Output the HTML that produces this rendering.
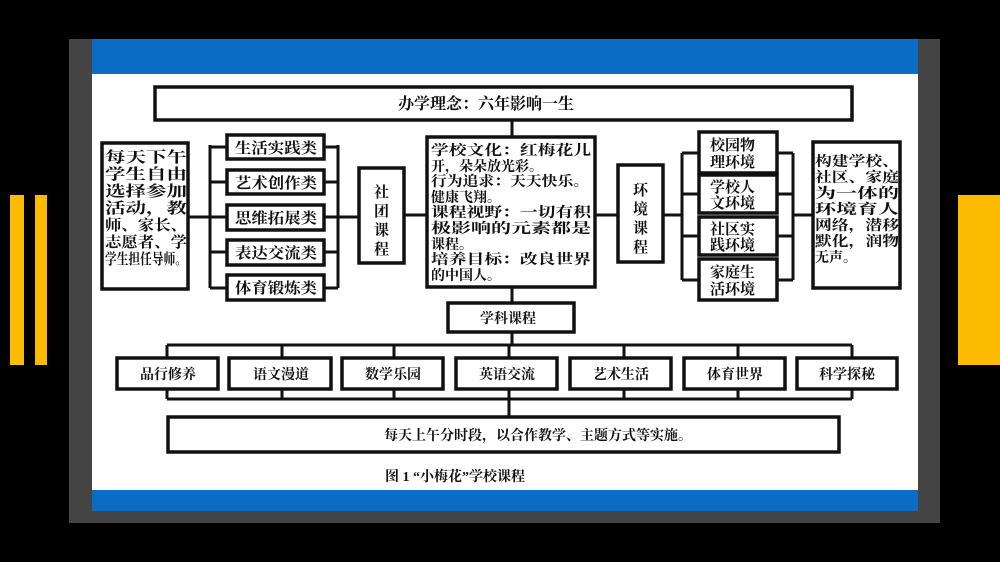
<!DOCTYPE html>
<html><head><meta charset="utf-8"><style>
html,body{margin:0;padding:0;background:#000;}
body{width:1000px;height:562px;overflow:hidden;position:relative;}
svg{position:absolute;left:0;top:0;}
text{font-family:"Liberation Serif","Noto Serif CJK SC","Noto Sans CJK SC",serif;fill:#111;font-weight:bold;}
</style></head><body>
<svg width="1000" height="562" viewBox="0 0 1000 562">
<rect x="0" y="0" width="1000" height="562" fill="#000"/>
<rect x="10" y="195" width="14" height="170" fill="#fdbb00"/>
<rect x="35" y="195" width="12" height="170" fill="#fdbb00"/>
<rect x="958" y="195" width="42" height="170" fill="#fdbb00"/>
<rect x="69" y="39" width="871" height="484" fill="#444"/>
<rect x="92" y="39" width="826" height="472" fill="#fff"/>
<rect x="92" y="39" width="826" height="35" fill="#0a6cc4"/>
<rect x="92" y="490" width="826" height="21" fill="#0a6cc4"/>
<g fill="none" stroke="#111" stroke-width="3.5">
<rect x="155" y="87" width="697" height="33"/>
<rect x="102" y="143" width="86" height="146"/>
<rect x="227" y="135" width="97" height="24"/>
<rect x="227" y="170" width="97" height="24"/>
<rect x="227" y="205" width="97" height="25"/>
<rect x="227" y="240" width="97" height="25"/>
<rect x="227" y="275" width="97" height="25"/>
<rect x="359" y="168" width="45" height="95"/>
<rect x="427" y="137" width="168" height="150"/>
<rect x="618" y="165" width="45" height="97"/>
<rect x="699" y="132" width="78" height="41"/>
<rect x="699" y="175" width="78" height="38"/>
<rect x="699" y="217" width="78" height="38"/>
<rect x="699" y="259" width="78" height="41"/>
<rect x="813" y="142" width="87" height="146"/>
<rect x="448" y="303" width="126" height="29"/>
<rect x="117" y="358" width="101" height="31"/>
<rect x="229" y="358" width="102" height="31"/>
<rect x="342" y="358" width="101" height="31"/>
<rect x="456" y="358" width="101" height="31"/>
<rect x="570" y="358" width="101" height="31"/>
<rect x="684" y="358" width="101" height="31"/>
<rect x="797" y="358" width="100" height="31"/>
<rect x="168" y="417" width="671" height="35"/>
</g>
<g fill="none" stroke="#111" stroke-width="3">
<path d="M188 217H210M210 145V288M210 147H227M210 182H227M210 217H227M210 252H227M210 288H227"/>
<path d="M324 147H338M324 182H338M324 217H338M324 252H338M324 288H338M338 145V288M338 217H359"/>
<path d="M404 215H427"/>
<path d="M512 120V137M512 287V303M512 332V345"/>
<path d="M595 215H618M663 215H682M682 153V280M682 153H699M682 194H699M682 236H699M682 280H699"/>
<path d="M777 153H793M777 194H793M777 236H793M777 280H793M793 153V280M793 215H813"/>
<path d="M167 345H852M167 345V358M282 345V358M394 345V358M509 345V358M624 345V358M738 345V358M852 345V358"/>
<path d="M167 389V399M282 389V399M394 389V399M509 389V399M624 389V399M738 389V399M852 389V399M167 399H852M509 399V417"/>
</g>
<g font-size="15">
<text x="398" y="109" font-size="16">办学理念：六年影响一生</text>
<text x="105" y="162" textLength="82" lengthAdjust="spacingAndGlyphs">每天下午</text>
<text x="105" y="179" textLength="82" lengthAdjust="spacingAndGlyphs">学生自由</text>
<text x="105" y="196" textLength="82" lengthAdjust="spacingAndGlyphs">选择参加</text>
<text x="105" y="213" textLength="82" lengthAdjust="spacingAndGlyphs">活动，教</text>
<text x="105" y="230" textLength="82" lengthAdjust="spacingAndGlyphs">师、家长、</text>
<text x="105" y="247" textLength="82" lengthAdjust="spacingAndGlyphs">志愿者、学</text>
<text x="105" y="264" textLength="82" lengthAdjust="spacingAndGlyphs">学生担任导师。</text>
<text x="235" y="153" textLength="82" lengthAdjust="spacingAndGlyphs">生活实践类</text>
<text x="235" y="188" textLength="82" lengthAdjust="spacingAndGlyphs">艺术创作类</text>
<text x="235" y="223" textLength="82" lengthAdjust="spacingAndGlyphs">思维拓展类</text>
<text x="235" y="258" textLength="82" lengthAdjust="spacingAndGlyphs">表达交流类</text>
<text x="235" y="293" textLength="82" lengthAdjust="spacingAndGlyphs">体育锻炼类</text>
<text x="374" y="197">社</text><text x="374" y="216">团</text><text x="374" y="235">课</text><text x="374" y="254">程</text>
<g font-size="14">
<text x="431" y="155" textLength="160" lengthAdjust="spacingAndGlyphs">学校文化：红梅花儿</text>
<text x="431" y="171">开，朵朵放光彩。</text>
<text x="431" y="186" textLength="158" lengthAdjust="spacingAndGlyphs">行为追求：天天快乐。</text>
<text x="431" y="202">健康飞翔。</text>
<text x="431" y="217" textLength="160" lengthAdjust="spacingAndGlyphs">课程视野：一切有积</text>
<text x="431" y="233" textLength="160" lengthAdjust="spacingAndGlyphs">极影响的元素都是</text>
<text x="431" y="249">课程。</text>
<text x="431" y="264" textLength="160" lengthAdjust="spacingAndGlyphs">培养目标：改良世界</text>
<text x="431" y="280">的中国人。</text>
</g>
<text x="633" y="195">环</text><text x="633" y="214">境</text><text x="633" y="233">课</text><text x="633" y="252">程</text>
<text x="710" y="150">校园物</text><text x="710" y="167">理环境</text>
<text x="710" y="192">学校人</text><text x="710" y="208">文环境</text>
<text x="710" y="234">社区实</text><text x="710" y="250">践环境</text>
<text x="710" y="277">家庭生</text><text x="710" y="294">活环境</text>
<g font-size="14">
<text x="815" y="166" textLength="84" lengthAdjust="spacingAndGlyphs">构建学校、</text>
<text x="815" y="182" textLength="84" lengthAdjust="spacingAndGlyphs">社区、家庭</text>
<text x="815" y="198" textLength="84" lengthAdjust="spacingAndGlyphs">为一体的</text>
<text x="815" y="214" textLength="84" lengthAdjust="spacingAndGlyphs">环境育人</text>
<text x="815" y="230" textLength="84" lengthAdjust="spacingAndGlyphs">网络，潜移</text>
<text x="815" y="246" textLength="84" lengthAdjust="spacingAndGlyphs">默化，润物</text>
<text x="815" y="262">无声。</text>
</g>
<text x="480" y="323" font-size="14">学科课程</text>
<g font-size="14">
<text x="140" y="379">品行修养</text>
<text x="253" y="379">语文漫道</text>
<text x="365" y="379">数学乐园</text>
<text x="479" y="379">英语交流</text>
<text x="593" y="379">艺术生活</text>
<text x="707" y="379">体育世界</text>
<text x="819" y="379">科学探秘</text>
<text x="384" y="440">每天上午分时段，以合作教学、主题方式等实施。</text>
<text x="385" y="481">图 1 “小梅花”学校课程</text>
</g>
</g>
</svg>
</body></html>
